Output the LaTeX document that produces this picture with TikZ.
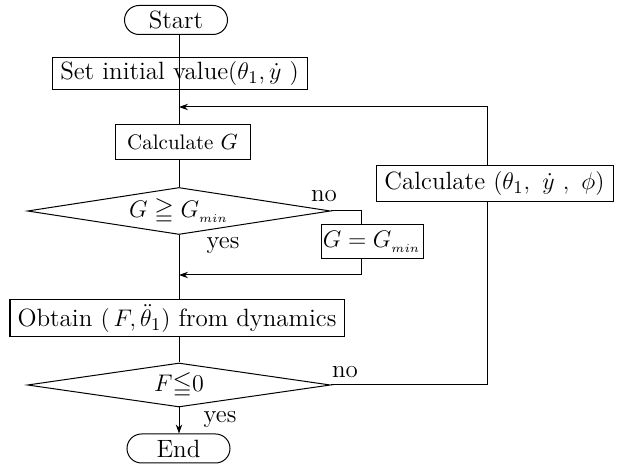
\documentclass[tikz,border=0pt]{standalone}
\usepackage{amsmath,amssymb}
\usetikzlibrary{shapes.geometric,shapes.misc,arrows.meta}
\tikzset{
  every node/.style={font=\fontsize{12.5}{15}\selectfont},
  conn/.style={line width=0.5pt},
  arr/.style={conn,-{Stealth[length=4.5pt,width=3.2pt]}},
  term/.style={draw,line width=0.5pt,rounded rectangle,inner sep=0pt,minimum width=51.5pt,minimum height=14.5pt},
  proc/.style={draw,line width=0.5pt,rectangle,inner sep=0pt,fill=white},
  dec/.style={draw,line width=0.5pt,diamond,inner sep=0pt,aspect=6.4},
  lbl/.style={inner sep=0pt}
}
\begin{document}
\begin{tikzpicture}[x=0.5pt,y=-0.5pt]
\useasboundingbox (0,0) rectangle (623,464);
\node[term] (start) at (176,20) {Start};
\node[proc,minimum width=127.5pt,minimum height=16pt] (init) at (179.5,74) {Set initial value$(\theta_1,\dot{y}\ )$};
\coordinate (m0) at (179,107);
\node[proc,minimum width=67.5pt,minimum height=17.5pt,font=\fontsize{10.5}{13}\selectfont] (calcg) at (182.5,142.5) {Calculate $G$};
\node[dec,minimum width=151.5pt,minimum height=23.5pt] (d1) at (179,211) {$G\geqq G_{_{min}}$};
\node[proc,minimum width=51pt,minimum height=17pt] (gg) at (372,242) {$G=G_{_{min}}$};
\coordinate (c1) at (361,211);
\coordinate (m1) at (179,275);
\node[proc,minimum width=167pt,minimum height=18.5pt] (obt) at (177,318.5) {Obtain $(\,F,\ddot{\theta}_1)$ from dynamics};
\node[dec,minimum width=151.5pt,minimum height=22pt] (d2) at (179,385) {$F{\leqq}0$};
\node[proc,minimum width=118.5pt,minimum height=18pt] (c3) at (494.5,184) {Calculate $(\theta_1,\ \dot{y}\ ,\ \phi)$};
\coordinate (r) at (487,385);
\node[term] (end) at (178.5,448.5) {End};
% labels
\node[lbl] (no1) at (324,196) {no};
\node[lbl] (yes1) at (223,245) {yes};
\node[lbl] (no2) at (345,372) {no};
\node[lbl] (yes2) at (220,419) {yes};
% connectors
\draw[conn] (start.south -| m0) -- (init.south -| m0);
\draw[conn] (init.south -| m0) -- (calcg.north -| m0);
\draw[conn] (calcg.south -| m0) -- (d1.north);
\draw[conn] (d1.south) -- (obt.north -| m0);
\draw[conn] (d1.east) -- (c1) -- (c1 |- gg.north);
\draw[arr] (c1 |- gg.south) -- (c1 |- m1) -- (m1);
\draw[conn] (obt.south -| m0) -- (d2.north);
\draw[arr] (d2.south) -- (end.north -| m0);
\draw[conn] (d2.east) -- (r) -- (r |- c3.south);
\draw[arr] (r |- c3.north) -- (r |- m0) -- (m0);
\end{tikzpicture}
\end{document}
